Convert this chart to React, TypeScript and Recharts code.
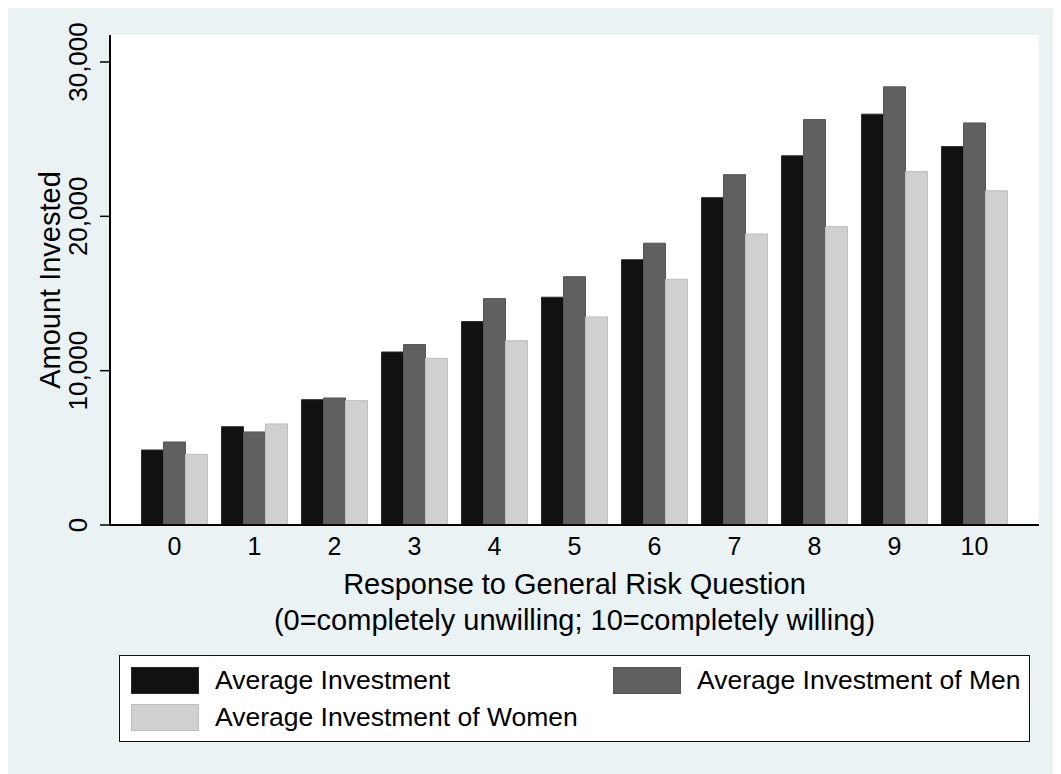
import { BarChart, Bar, XAxis, YAxis, CartesianGrid, Legend } from 'recharts';

// Response to general risk question (0..10)
const categories = ['0', '1', '2', '3', '4', '5', '6', '7', '8', '9', '10'];
const averageInvestment = [4860, 6370, 8120, 11210, 13180, 14760, 17190, 21210, 23920, 26620, 24520];
const menInvestment = [5380, 6030, 8230, 11690, 14670, 16090, 18260, 22700, 26270, 28390, 26050];
const womenInvestment = [4580, 6550, 8060, 10800, 11940, 13480, 15920, 18860, 19330, 22900, 21650];
const yTicks = [0, 10000, 20000, 30000];

const data = categories.map((c, i) => ({
    risk: c,
    avg: averageInvestment[i],
    men: menInvestment[i],
    women: womenInvestment[i],
}));

const FONT = '"Liberation Sans", Arial, Helvetica, sans-serif';
const BG = '#EAF2F3';

const YTick = (props: any) => {
    const { y, payload } = props;
    const x = 79;
    return (
        <text x={x} y={y} transform={`rotate(-90, ${x}, ${y})`} textAnchor="middle" fontSize={26} fill="#000" fontFamily={FONT}>
            {Number(payload.value).toLocaleString('en-US')}
        </text>
    );
};

const XTick = (props: any) => {
    const { x, y, payload } = props;
    return (
        <text x={x} y={y + 22} textAnchor="middle" fontSize={25} fill="#000" fontFamily={FONT}>
            {payload.value}
        </text>
    );
};

const XTitle = (props: any) => {
    const { viewBox } = props;
    const cx = viewBox.x + viewBox.width / 2;
    return (
        <g fontFamily={FONT} fontSize={29} fill="#000">
            <text x={cx} y={viewBox.y + 69} textAnchor="middle">Response to General Risk Question</text>
            <text x={cx} y={viewBox.y + 105} textAnchor="middle">(0=completely unwilling; 10=completely willing)</text>
        </g>
    );
};

const YTitle = (props: any) => {
    const { viewBox } = props;
    const cy = viewBox.y + viewBox.height / 2;
    const x = 52;
    return (
        <text x={x} y={cy} transform={`rotate(-90, ${x}, ${cy})`} textAnchor="middle" fontSize={29} fill="#000" fontFamily={FONT}>
            Amount Invested
        </text>
    );
};

const LegendBox = (props: any) => {
    const items = props.payload || [];
    return (
        <div
            style={{
                boxSizing: 'border-box',
                width: 911,
                height: 87,
                border: '1px solid #111',
                background: '#fff',
                display: 'grid',
                gridTemplateColumns: '482px 1fr',
                gridAutoRows: '27px',
                rowGap: 10,
                padding: '11px 0 0 11px',
                fontFamily: FONT,
                fontSize: 26.5,
            }}
        >
            {items.map((item: any) => (
                <div key={item.value} style={{ display: 'flex', alignItems: 'center', height: 27 }}>
                    <span
                        style={{
                            boxSizing: 'border-box',
                            width: 68,
                            height: 27,
                            background: item.color,
                            border: `1px solid ${item.payload?.stroke || item.color}`,
                            marginRight: 16,
                            flex: 'none',
                        }}
                    />
                    <span style={{ lineHeight: '27px', whiteSpace: 'nowrap', color: '#000' }}>{item.value}</span>
                </div>
            ))}
        </div>
    );
};

export default function App() {
    return (
        <div style={{ width: 1053, height: 766, background: BG, position: 'relative' }}>
            <BarChart
                width={1053}
                height={766}
                data={data}
                margin={{ top: 27, right: 22, left: 0, bottom: 0 }}
                barGap={0}
                barSize={22}
            >
                <rect x={102} y={27} width={929} height={490} fill="#fff" />
                <CartesianGrid horizontal vertical={false} stroke={BG} strokeWidth={2} />
                <XAxis
                    dataKey="risk"
                    height={249}
                    padding={{ left: 24.5, right: 24.5 }}
                    tickLine={false}
                    axisLine={{ stroke: '#000', strokeWidth: 2 }}
                    tick={<XTick />}
                    interval={0}
                    label={<XTitle />}
                />
                <YAxis
                    width={102}
                    domain={[0, 31750]}
                    ticks={yTicks}
                    interval={0}
                    tickSize={10}
                    tickLine={{ stroke: '#000', strokeWidth: 1.5 }}
                    axisLine={{ stroke: '#000', strokeWidth: 2 }}
                    tick={<YTick />}
                    label={<YTitle />}
                />
                <Legend
                    layout="horizontal"
                    verticalAlign="middle"
                    align="center"
                    content={<LegendBox />}
                    wrapperStyle={{ position: 'absolute', left: 111, top: 647, width: 911, height: 87 }}
                />
                <Bar dataKey="avg" name="Average Investment" fill="#111111" stroke="#2b2b2b" strokeWidth={1} isAnimationActive={false} />
                <Bar dataKey="men" name="Average Investment of Men" fill="#606060" stroke="#555555" strokeWidth={1} isAnimationActive={false} />
                <Bar dataKey="women" name="Average Investment of Women" fill="#D0D0D0" stroke="#BDBDBD" strokeWidth={1} isAnimationActive={false} />
            </BarChart>
        </div>
    );
}
